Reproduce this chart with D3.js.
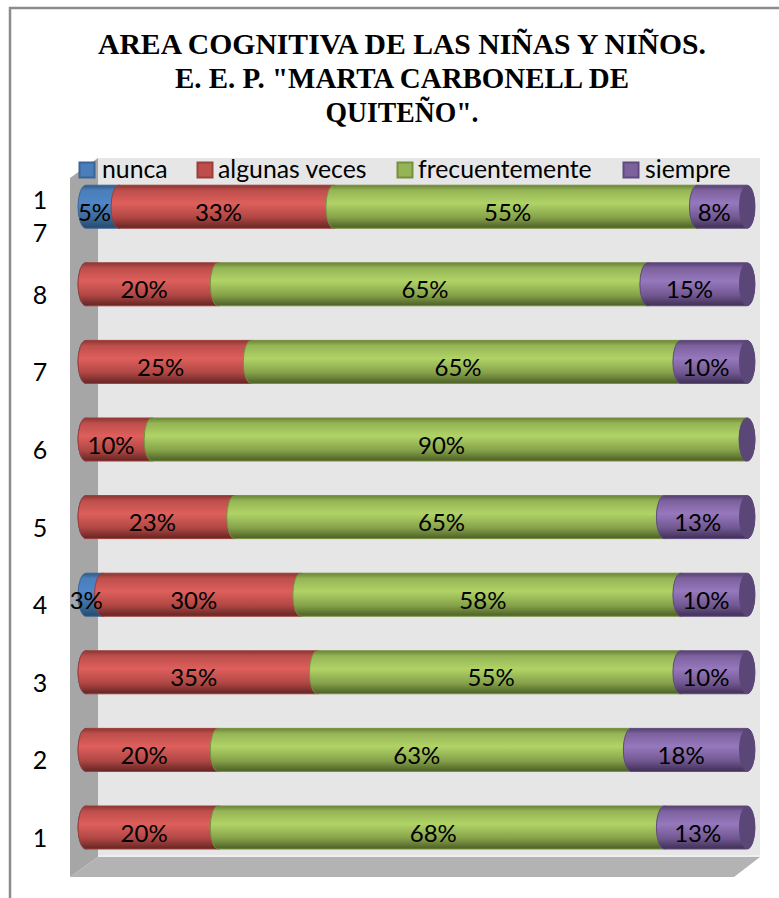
<!DOCTYPE html>
<html><head><meta charset="utf-8">
<script src="https://cdnjs.cloudflare.com/ajax/libs/d3/7.9.0/d3.min.js"></script>
<style>html,body{margin:0;padding:0;background:#fff;overflow:hidden}svg{display:block}</style>
</head><body><svg id="c" width="779" height="898"></svg>
<script>
const categories = ["1","2","3","4","5","6","7","8","17"];
const seriesNames = ["nunca","algunas veces","frecuentemente","siempre"];
const nunca = [0,0,0,2.5,0,0,0,0,5];
const algunasVeces = [20,20,35,30,22.5,10,25,20,32.5];
const frecuentemente = [67.5,62.5,55,57.5,65,90,65,65,55];
const siempre = [12.5,17.5,10,10,12.5,0,10,15,7.5];
const titleLines = ["AREA COGNITIVA DE LAS NIÑAS Y NIÑOS.","E. E. P. \"MARTA CARBONELL DE","QUITEÑO\"."];
const fills = [
 ["#2f5a88","#4a7ebb","#4f86c6","#3d6a98","#264a70"],
 ["#8a3633","#bd4e4b","#de5f5c","#b04744","#642523"],
 ["#6a8437","#95b455","#b0d366","#86a24a","#4c5f26"],
 ["#54406f","#7c619d","#9678bd","#725892","#3f3055"]];
const edges = ["#3a6595","#9c3d3a","#76903e","#5f4a7f"];
const capFill = "#5b4777";

const svg = d3.select("#c");
const rows = categories.map((c,i)=>({cat:c,nunca:nunca[i],"algunas veces":algunasVeces[i],frecuentemente:frecuentemente[i],siempre:siempre[i]}));
const stack = d3.stack().keys(seriesNames)(rows);
const x = d3.scaleLinear().domain([0,100]).range([86,747]);
const y = d3.scaleBand().domain(categories).range([866.3,167.9]).paddingInner(0.446).paddingOuter(0.223);
const rx = 8, ry = y.bandwidth()/2;

// frame
svg.append("path").attr("d","M10,898V8H779").attr("fill","none").attr("stroke","#8c8c8c").attr("stroke-width",2.5);

// 3D walls
svg.append("path").attr("d","M98,158H760V857H98Z").attr("fill","#e6e6e6");
svg.append("path").attr("d","M98,855H760V857.5H98Z").attr("fill","#efefef");
svg.append("path").attr("d","M70,178L98,158V857L70,877Z").attr("fill","#a6a6a6");
svg.append("path").attr("d","M70,877L98,857H760L734,877Z").attr("fill","#b3b3b3");

// gradients
const defs = svg.append("defs");
fills.forEach((f,i)=>{
  const g = defs.append("linearGradient").attr("id","g"+i).attr("x1",0).attr("x2",0).attr("y1",0).attr("y2",1);
  [0,.12,.42,.75,1].forEach((o,k)=>g.append("stop").attr("offset",o).attr("stop-color",f[k]));
});

// bars
stack.forEach((s,i)=>{
  const g = svg.append("g");
  g.selectAll("path").data(s).join("path")
   .attr("d",d=>{
     const a=x(d[0]),b=x(d[1]),t=y(d.data.cat),u=t+2*ry;
     return `M${a},${t}L${b},${t}A${rx},${ry} 0 0 1 ${b},${u}L${a},${u}A${rx},${ry} 0 0 1 ${a},${t}Z`;
   })
   .attr("fill",`url(#g${i})`).attr("stroke",edges[i]).attr("stroke-width",1);
});
// end caps
svg.append("g").selectAll("ellipse").data(categories).join("ellipse")
  .attr("cx",x(100)).attr("cy",d=>y(d)+ry).attr("rx",rx).attr("ry",ry)
  .attr("fill",capFill);

// data labels
const font = "Lato, sans-serif";
stack.forEach(s=>{
  svg.append("g").selectAll("text").data(s.filter(d=>d[1]>d[0])).join("text")
   .attr("x",d=>x((d[0]+d[1])/2)-8).attr("y",d=>y(d.data.cat)+ry+14)
   .attr("text-anchor","middle").attr("font-family",font).attr("font-size",24).attr("fill","#000")
   .text(d=>Math.round(d[1]-d[0])+"%");
});

// category axis
const axis = svg.append("g").attr("transform","translate(48,0)").call(d3.axisLeft(y).tickSize(0).tickPadding(0));
axis.select(".domain").remove();
axis.selectAll("text").attr("font-family",font).attr("font-size",25).attr("fill","#000")
  .attr("text-anchor","middle").attr("x",-8).attr("dy",null)
  .attr("y",19.5)
  .each(function(d){
    if(d.length>1){
      const t=d3.select(this).text(null).attr("y",null);
      t.append("tspan").attr("x",-8).attr("y",2).text(d[0]);
      t.append("tspan").attr("x",-8).attr("y",35).text(d[1]);
    }
  });

// legend
const legendSwatch = [87,205,405,631];
const legendText = [102,218,418,645];
const lg = svg.append("g");
seriesNames.forEach((n,i)=>{
  lg.append("rect").attr("x",legendSwatch[i]-7.5).attr("y",162.5).attr("width",15).attr("height",15)
    .attr("fill",fills[i][1]).attr("stroke",edges[i]).attr("stroke-width",2);
  lg.append("text").attr("x",legendText[i]).attr("y",178).attr("font-family",font).attr("font-size",24.8).attr("fill","#000").text(n);
});

// title
const titleW = [608,454,153];
svg.append("g").selectAll("text").data(titleLines).join("text")
  .attr("x",402).attr("y",(d,i)=>54+i*34)
  .attr("text-anchor","middle").attr("font-family","'Liberation Serif',serif").attr("font-size",29).attr("font-weight","bold").attr("fill","#000")
  .attr("textLength",(d,i)=>titleW[i]).attr("lengthAdjust","spacingAndGlyphs")
  .text(d=>d);
</script></body></html>
